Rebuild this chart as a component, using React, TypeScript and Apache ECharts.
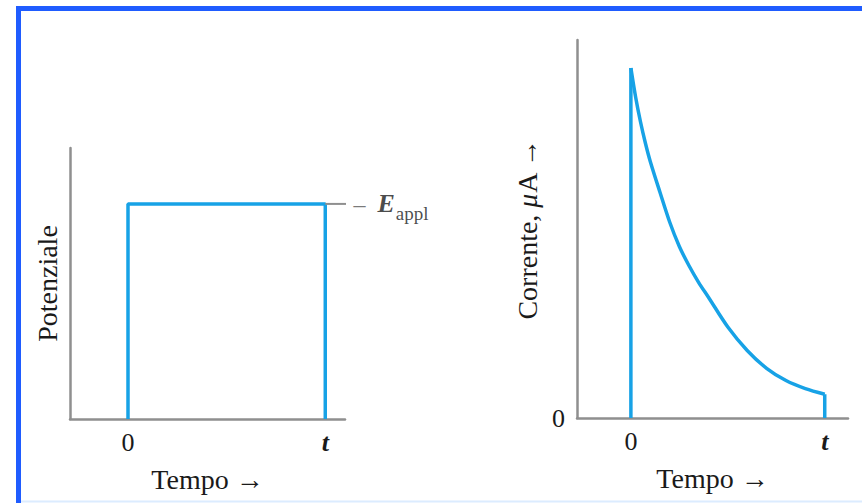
import React, { useEffect, useRef } from "react";
import * as echarts from "echarts";

// Left panel: potential step
const stepTime = [0, 0, 10, 10];
const stepPotential = [0, 1, 1, 0];
// Right panel: current decay
const currentTime = [0, 0.25, 0.5, 0.75, 1, 1.5, 2, 2.5, 3, 3.5, 4, 5, 6, 7, 8, 9, 10];
const currentValue = [1, 0.915, 0.845, 0.785, 0.733, 0.645, 0.56, 0.49, 0.435, 0.387, 0.345, 0.26, 0.193, 0.142, 0.107, 0.084, 0.068];
const xTickValues = [0, 10];
const xTickLabels = ["0", "t"];
const yTickValuesRight = [0];
const yTickLabelsRight = ["0"];

const SERIF = "'Liberation Serif', 'Times New Roman', serif";
const BLUE = "#17a2e6";
const AXIS = "#8f8f8f";
const TXT = "#1a1a1a";

export default function App() {
  const ref = useRef<HTMLDivElement>(null);
  useEffect(() => {
    if (!ref.current) return;
    const chart = echarts.init(ref.current, undefined, { renderer: "svg" });
    const xLabel = (v: number) => {
      const i = xTickValues.indexOf(v);
      const s = i >= 0 ? xTickLabels[i] : "";
      return s === "t" ? "{it|t}" : s;
    };
    const axisCommon = {
      axisTick: { show: false },
      splitLine: { show: false },
      axisLine: { show: true, onZero: false, lineStyle: { color: AXIS, width: 2.5 } },
    };
    const nameStyle = { fontFamily: SERIF, fontSize: 28, color: TXT };
    const stepData = stepTime.map((t, i) => [t, stepPotential[i]]);
    const curveData = currentTime.map((t, i) => [t, currentValue[i]]);
    const last = currentTime.length - 1;
    const tickLabel = {
      customValues: xTickValues, formatter: xLabel, margin: 10,
      fontFamily: SERIF, fontSize: 26, color: TXT,
      rich: { it: { fontFamily: SERIF, fontSize: 26, fontStyle: "italic", fontWeight: "bold", color: TXT } },
    };
    chart.setOption({
      animation: false,
      backgroundColor: "#ffffff",
      grid: [
        { left: 70, top: 148, width: 275, height: 271 },
        { left: 577, top: 40, width: 271, height: 378 },
      ],
      xAxis: [
        {
          type: "value", gridIndex: 0, min: -2.94, max: 11.0, ...axisCommon,
          axisLabel: tickLabel,
          name: "Tempo →", nameLocation: "middle", nameGap: 46, nameTextStyle: nameStyle,
        },
        {
          type: "value", gridIndex: 1, min: -2.78, max: 11.2, ...axisCommon,
          axisLabel: tickLabel,
          name: "Tempo →", nameLocation: "middle", nameGap: 46, nameTextStyle: nameStyle,
        },
      ],
      yAxis: [
        {
          type: "value", gridIndex: 0, min: 0, max: 1.26, ...axisCommon,
          axisLabel: { show: false },
          name: "Potenziale", nameLocation: "middle", nameGap: 9, nameTextStyle: nameStyle,
        },
        {
          type: "value", gridIndex: 1, min: 0, max: 1.08, ...axisCommon,
          axisLabel: {
            customValues: yTickValuesRight,
            formatter: (v: number) => yTickLabelsRight[yTickValuesRight.indexOf(v)] ?? "",
            margin: 12, fontFamily: SERIF, fontSize: 26, color: TXT,
          },
          name: "Corrente, {i|μ}A →", nameLocation: "middle", nameGap: 36,
          nameTextStyle: {
            ...nameStyle,
            rich: { i: { fontFamily: SERIF, fontSize: 28, fontStyle: "italic", color: TXT } },
          },
        },
      ],
      series: [
        {
          type: "line", xAxisIndex: 0, yAxisIndex: 0, data: stepData, showSymbol: false,
          symbol: "none", lineStyle: { color: BLUE, width: 3.5 },
        },
        {
          type: "line", xAxisIndex: 0, yAxisIndex: 0, data: [[10, 1], [11.1, 1]], clip: false,
          symbol: "none", lineStyle: { color: AXIS, width: 2 },
        },
        {
          type: "scatter", xAxisIndex: 0, yAxisIndex: 0, data: [[11.1, 1]],
          symbolSize: 1, itemStyle: { color: "rgba(0,0,0,0)" }, clip: false,
          label: {
            show: true, position: "right", distance: 6,
            formatter: "{d|–}{e|E}{s|appl}",
            rich: {
              d: { fontFamily: SERIF, fontSize: 24, color: "#555", padding: [0, 12, 0, 0] },
              e: { fontFamily: SERIF, fontSize: 26, fontStyle: "italic", fontWeight: "bold", color: TXT },
              s: { fontFamily: SERIF, fontSize: 19, color: TXT, padding: [20, 0, 0, 1] },
            },
          },
        },
        {
          type: "line", xAxisIndex: 1, yAxisIndex: 1, showSymbol: false, symbol: "none",
          data: [[currentTime[0], 0], curveData[0]], lineStyle: { color: BLUE, width: 3.5 },
        },
        {
          type: "line", xAxisIndex: 1, yAxisIndex: 1, showSymbol: false, symbol: "none",
          data: curveData, smooth: 0.3, lineStyle: { color: BLUE, width: 3.5 },
        },
        {
          type: "line", xAxisIndex: 1, yAxisIndex: 1, showSymbol: false, symbol: "none",
          data: [curveData[last], [currentTime[last], 0]], lineStyle: { color: BLUE, width: 3.5 },
        },
      ],
      graphic: [
        { type: "line", shape: { x1: 16, y1: 8.5, x2: 862, y2: 8.5 }, style: { stroke: "#1f5cff", lineWidth: 5 } },
        { type: "line", shape: { x1: 18.5, y1: 6, x2: 18.5, y2: 503 }, style: { stroke: "#1f5cff", lineWidth: 5 } },
        { type: "line", shape: { x1: 21, y1: 501.5, x2: 862, y2: 501.5 }, style: { stroke: "#dcecff", lineWidth: 2 } },
      ],
    });
    return () => chart.dispose();
  }, []);
  return (
    <div
      ref={ref}
      style={{ position: "absolute", left: 0, top: 0, width: 862, height: 503 }}
    />
  );
}
